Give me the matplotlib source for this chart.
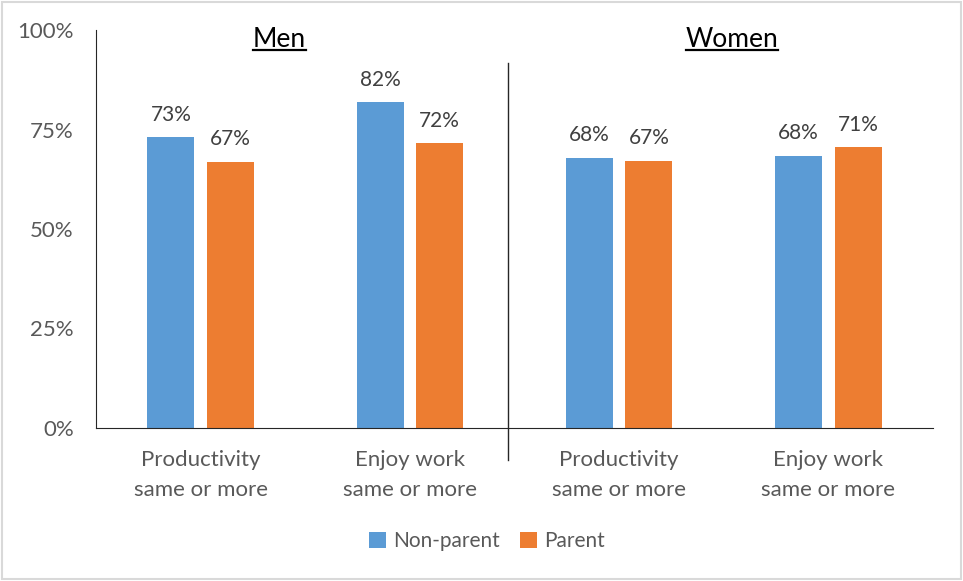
import numpy as np
import matplotlib.pyplot as plt
from matplotlib.patches import Rectangle
from matplotlib.lines import Line2D

plt.rcParams['font.family'] = ['Lato', 'DejaVu Sans']

categories = ["Productivity\nsame or more", "Enjoy work\nsame or more",
              "Productivity\nsame or more", "Enjoy work\nsame or more"]
non_parent = [73.0, 81.9, 67.9, 68.4]
parent = [66.9, 71.5, 67.2, 70.6]
series_names = ["Non-parent", "Parent"]
group_titles = ["Men", "Women"]
y_ticks = [0, 25, 50, 75, 100]

BLUE = "#5B9BD5"
ORANGE = "#ED7D31"
GREY = "#595959"

fig = plt.figure(figsize=(9.63, 5.81), dpi=100)
ax = fig.add_axes([96 / 963, 1 - 428 / 581, (933 - 96) / 963, (428 - 30) / 581])

x = np.arange(len(categories))
w = 0.224
off = 0.03 + w / 2
b1 = ax.bar(x - off, non_parent, w, color=BLUE, label=series_names[0])
b2 = ax.bar(x + off, parent, w, color=ORANGE, label=series_names[1])

for bars, vals in ((b1, non_parent), (b2, parent)):
    for r, v in zip(bars, vals):
        ax.annotate(f"{v:.0f}%", (r.get_x() + r.get_width() / 2, v),
                    xytext=(0, 9), textcoords="offset points",
                    ha="center", va="bottom", fontsize=15, color="#404040")

ax.set_xlim(-0.5, 3.5)
ax.set_ylim(0, 100)
ax.set_yticks(y_ticks)
ax.set_yticklabels([f"{t}%" for t in y_ticks], fontsize=16, color=GREY)
ax.set_xticks(x)
ax.set_xticklabels(categories, fontsize=16, color=GREY, linespacing=1.6)
ax.tick_params(axis="both", length=0)
ax.tick_params(axis="y", pad=16)
ax.tick_params(axis="x", pad=16)
for s in ("top", "right"):
    ax.spines[s].set_visible(False)
ax.spines["left"].set_color("#262626")
ax.spines["bottom"].set_color("#262626")

# divider between Men and Women
ax.plot([1.47, 1.47], [-8, 91.7], color="#262626", lw=1, clip_on=False)

# underlined group titles
fig.canvas.draw()
renderer = fig.canvas.get_renderer()
for tx, title in zip([0.375, 2.54], group_titles):
    t = ax.text(tx, 97.5, title, ha="center", va="center", fontsize=19, color="black")
    bb = t.get_window_extent(renderer).transformed(fig.transFigure.inverted())
    fig.add_artist(Line2D([bb.x0, bb.x1], [bb.y0 + 0.004, bb.y0 + 0.004],
                          color="black", lw=1.6, transform=fig.transFigure))

fig.legend(loc="center", bbox_to_anchor=(487 / 963, 1 - 541 / 581), ncol=2,
           frameon=False, fontsize=15, handlelength=0.8, handleheight=0.8,
           handletextpad=0.35, columnspacing=1.0, labelcolor=GREY)

fig.add_artist(Rectangle((0.002, 0.003), 0.996, 0.994, transform=fig.transFigure,
                         fill=False, edgecolor="#D9D9D9", lw=1.5))

fig.savefig("out.png", dpi=100)
